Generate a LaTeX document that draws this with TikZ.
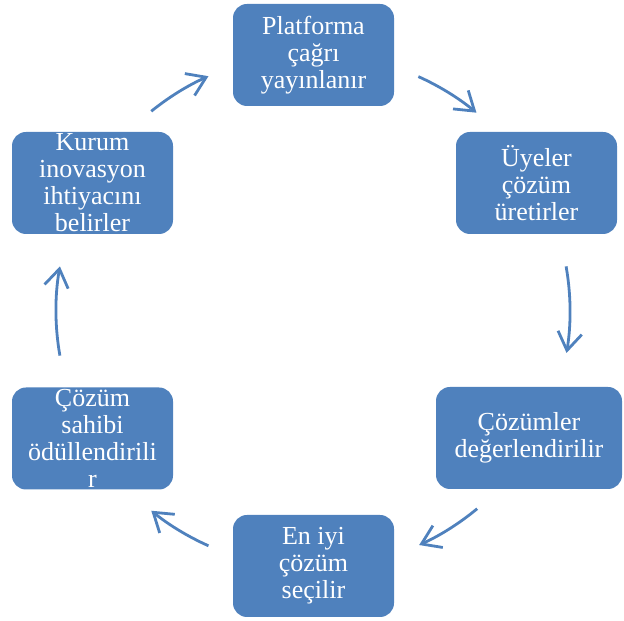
\documentclass[tikz,border=0pt]{standalone}
\usepackage{fontspec}
\setmainfont{Liberation Serif}
\usetikzlibrary{arrows.meta}
\definecolor{boxblue}{HTML}{4F81BD}

\begin{document}
\begin{tikzpicture}[x=1pt,y=1pt,
stepbox/.style={fill=boxblue, rounded corners=14pt, minimum width=161pt, minimum height=102pt,
  inner sep=0pt, text=white, align=center, font=\fontsize{26}{27}\selectfont},
cyclearrow/.style={draw=boxblue, line width=2.8pt, -{Straight Barb[length=18pt,width=24pt]}}]
\useasboundingbox (0,0) rectangle (624,621);

\node[stepbox] (platform) at (313.5,566) {Platforma\\çağrı\\yayınlanır};
\node[stepbox] (uyeler) at (536.5,438) {Üyeler\\çözüm\\üretirler};
\node[stepbox, minimum width=186pt] (degerlendir) at (529,183) {Çözümler\\değerlendirilir};
\node[stepbox] (eniyi) at (313.5,55) {En iyi\\çözüm\\seçilir};
\node[stepbox] (odul) at (92.5,182.5) {Çözüm\\sahibi\\ödüllendirili\\r};
\node[stepbox] (kurum) at (92.5,438) {Kurum\\inovasyon\\ihtiyacını\\belirler};

\coordinate (hub) at (313,310);
\foreach \a/\b in {65.8/50.5, 10/-9.4, -50.3/-65.6, -114/-129, 190/170, 129/114}
  \draw[cyclearrow] ([shift={(\a:257)}]hub) arc[start angle=\a, end angle=\b, radius=257];
\end{tikzpicture}
\end{document}
